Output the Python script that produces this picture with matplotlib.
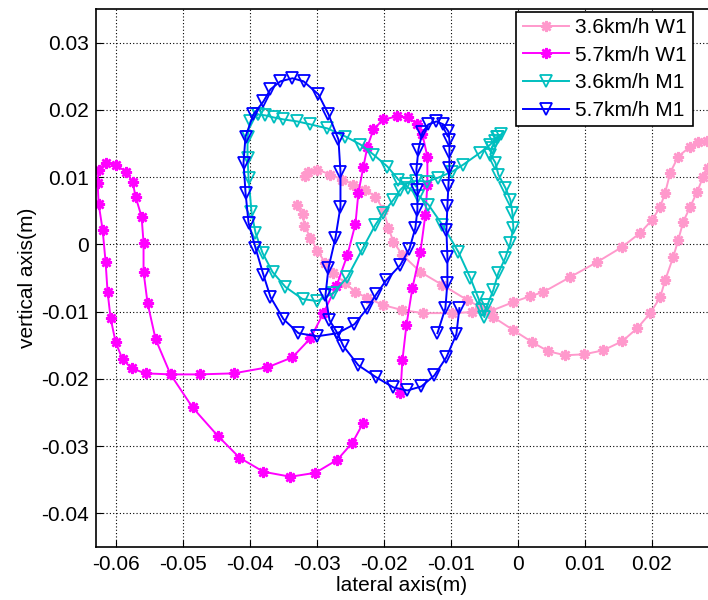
import numpy as np
import matplotlib.pyplot as plt

plt.rcParams['font.family'] = ['Liberation Sans', 'DejaVu Sans']

# 3.6km/h W1 (light pink)
x_w1_36 = [-0.03291, -0.03216, -0.03187, -0.03097, -0.02993, -0.02873, -0.02754, -0.02575, -0.02425,
           -0.02246, -0.02007, -0.01724, -0.0141, -0.00978, -0.00679, -0.0041, -0.00067, 0.00187,
           0.00381, 0.00784, 0.01187, 0.0156, 0.01828, 0.02007, 0.02127, 0.02201, 0.02276, 0.02396,
           0.02575, 0.02694, 0.02828, 0.02963, 0.03007, 0.02843, 0.02769, 0.02679, 0.02575, 0.0247,
           0.02396, 0.02321, 0.02201, 0.02127, 0.01978, 0.01784, 0.0156, 0.01276, 0.00993, 0.00709,
           0.00455, 0.00216, -0.00067, -0.00366, -0.0056, -0.00754, -0.01127, -0.01455, -0.01724,
           -0.01858, -0.01933, -0.02007, -0.02127, -0.02276, -0.02455, -0.02619, -0.02799, -0.02993,
           -0.03127, -0.03172]
y_w1_36 = [0.0059, 0.00455, 0.00276, 0.00097, -0.00097, -0.00276, -0.00425, -0.00575, -0.00709,
           -0.00799, -0.00903, -0.00978, -0.01022, -0.01022, -0.01007, -0.00993, -0.00858, -0.00769,
           -0.00709, -0.00485, -0.00261, -0.00037, 0.00172, 0.00366, 0.0056, 0.00769, 0.01067, 0.01306,
           0.01455, 0.01515, 0.0153, 0.01485, 0.01336, 0.01142, 0.01007, 0.00784, 0.0056, 0.00336,
           0.00067, -0.00187, -0.0053, -0.00784, -0.01022, -0.01246, -0.0144, -0.01575, -0.01634, -0.01649,
           -0.0159, -0.01455, -0.01276, -0.01082, -0.00933, -0.00828, -0.00604, -0.0041, -0.00157,
           0.00037, 0.00246, 0.00515, 0.00709, 0.00813, 0.00888, 0.00963, 0.01037, 0.01112,
           0.01082, 0.01022]

# 5.7km/h W1 (magenta)
x_w1_57 = [-0.02306, -0.0247, -0.02694, -0.03022, -0.03396, -0.03799, -0.04157, -0.04485, -0.04858,
           -0.05187, -0.0541, -0.0553, -0.0559, -0.0559, -0.05619, -0.05709, -0.05754, -0.05858,
           -0.06007, -0.06157, -0.06261, -0.06276, -0.06261, -0.06201, -0.06157, -0.06127, -0.06082,
           -0.06007, -0.05903, -0.05769, -0.0556, -0.05187, -0.04754, -0.04246, -0.03739, -0.03366,
           -0.03097, -0.02903, -0.02709, -0.02545, -0.02425, -0.02381, -0.02306, -0.02246, -0.02157,
           -0.02007, -0.01799, -0.01634, -0.015, -0.01425, -0.01351, -0.01351, -0.01381, -0.01455,
           -0.01575, -0.01664, -0.01724, -0.01754]
y_w1_57 = [-0.02649, -0.02948, -0.03201, -0.03396, -0.03455, -0.03381, -0.03172, -0.02843, -0.02425,
           -0.01933, -0.0141, -0.00873, -0.0041, 0.00022, 0.0041, 0.00709, 0.00933, 0.01082,
           0.01187, 0.01216, 0.01112, 0.00918, 0.00604, 0.00216, -0.00261, -0.00709, -0.01097,
           -0.01455, -0.01709, -0.01843, -0.01918, -0.01933, -0.01933, -0.01918, -0.01828, -0.01679,
           -0.01396, -0.01022, -0.00619, -0.00157, 0.00306, 0.00769, 0.01157, 0.01455, 0.01709,
           0.01858, 0.01903, 0.01888, 0.01784, 0.01634, 0.01306, 0.00888, 0.0044, -0.00112,
           -0.00649, -0.01201, -0.01724, -0.02216]

# 3.6km/h M1 (cyan)
x_m1_36 = [-0.03888, -0.03769, -0.03649, -0.035, -0.03291, -0.03097, -0.02843, -0.02575, -0.02351,
           -0.02157, -0.01948, -0.01784, -0.01634, -0.01485, -0.01336, -0.01127, -0.00888, -0.00709,
           -0.0059, -0.0053, -0.005, -0.00455, -0.00366, -0.00291, -0.00187, -0.00112, -0.00067,
           -0.00082, -0.00112, -0.00187, -0.00291, -0.00336, -0.0041, -0.00381, -0.00336, -0.00291,
           -0.00246, -0.00306, -0.0041, -0.0056, -0.00813, -0.00978, -0.01187, -0.01351, -0.01515,
           -0.01664, -0.01754, -0.01858, -0.02007, -0.02127, -0.02321, -0.02545, -0.02754, -0.02993,
           -0.03216, -0.0347, -0.03664, -0.03813, -0.03918, -0.03978, -0.04022, -0.04037, -0.04037,
           -0.03993, -0.03888]
y_m1_36 = [0.01933, 0.01918, 0.01888, 0.01858, 0.01828, 0.01784, 0.01724, 0.01604, 0.01485,
           0.01336, 0.01157, 0.00963, 0.00843, 0.00724, 0.0059, 0.00291, -0.00112, -0.005,
           -0.00799, -0.00978, -0.01082, -0.00903, -0.00679, -0.00425, -0.00201, 0.00022, 0.00246,
           0.0047, 0.00664, 0.00843, 0.01037, 0.01216, 0.01336, 0.0144, 0.0153, 0.0159,
           0.01634, 0.01604, 0.01485, 0.01366, 0.01187, 0.01082, 0.00993, 0.00933, 0.00948,
           0.00903, 0.00813, 0.00664, 0.0047, 0.00291, -0.00067, -0.00485, -0.00724, -0.00843,
           -0.00813, -0.00634, -0.0041, -0.00127, 0.00172, 0.00485, 0.00993, 0.01291, 0.01604,
           0.01828, 0.01933]

# 5.7km/h M1 (blue)
x_m1_57 = [-0.00873, -0.00918, -0.01067, -0.01246, -0.0144, -0.01649, -0.01858, -0.02112, -0.02381,
           -0.02604, -0.02694, -0.02813, -0.02873, -0.02828, -0.02724, -0.02649, -0.02649, -0.02679,
           -0.02828, -0.02978, -0.03201, -0.03366, -0.03545, -0.03694, -0.03799, -0.03948, -0.04067,
           -0.04097, -0.04067, -0.04022, -0.03918, -0.03799, -0.03694, -0.035, -0.03276, -0.02993,
           -0.02694, -0.0244, -0.02246, -0.02112, -0.01963, -0.01754, -0.01619, -0.0153, -0.015,
           -0.015, -0.01515, -0.01485, -0.01425, -0.01336, -0.01216, -0.01112, -0.01037, -0.01022,
           -0.01022, -0.01022, -0.01037, -0.01052, -0.01067, -0.01052, -0.01052, -0.01082, -0.01201]
y_m1_57 = [-0.00948, -0.01336, -0.01679, -0.01948, -0.02112, -0.02172, -0.02127, -0.01978, -0.01799,
           -0.01515, -0.01321, -0.01127, -0.00754, -0.00351, 0.00097, 0.0056, 0.01082, 0.0156,
           0.01933, 0.02231, 0.02425, 0.0247, 0.02425, 0.02306, 0.02127, 0.01933, 0.01604,
           0.01216, 0.00769, 0.00321, -0.00052, -0.00455, -0.00784, -0.01112, -0.01321, -0.01366,
           -0.01321, -0.01187, -0.00948, -0.00739, -0.0053, -0.00306, -0.00067, 0.00246, 0.00515,
           0.00813, 0.01112, 0.0141, 0.01664, 0.01784, 0.01828, 0.01784, 0.01679, 0.01545,
           0.01381, 0.01142, 0.00873, 0.00575, 0.00216, -0.00187, -0.00575, -0.00948, -0.01321]

star = (8, 2, 0)

fig = plt.figure(figsize=(7.08, 6.0), dpi=100)
ax = fig.add_axes([0.1356, 0.0883, 0.8644, 0.8967])

ax.plot(x_w1_36, y_w1_36, color='#FF99CC', lw=1.4, marker=star, ms=8, mew=1.8, label='3.6km/h W1')
ax.plot(x_w1_57, y_w1_57, color='#FF00FF', lw=1.4, marker=star, ms=8, mew=1.8, label='5.7km/h W1')
ax.plot(x_m1_36, y_m1_36, color='#00BFBF', lw=1.4, marker='v', ms=8.5, mfc='none', mew=1.3,
        label='3.6km/h M1')
ax.plot(x_m1_57, y_m1_57, color='#0000FF', lw=1.4, marker='v', ms=8.5, mfc='none', mew=1.3,
        label='5.7km/h M1')

ax.set_xlim(-0.063, 0.0284)
ax.set_ylim(-0.045, 0.035)
ax.set_xticks(np.arange(-0.06, 0.021, 0.01))
ax.set_yticks(np.arange(-0.04, 0.031, 0.01))
ax.xaxis.set_major_formatter(plt.FuncFormatter(lambda v, p: '%g' % round(v, 3)))
ax.yaxis.set_major_formatter(plt.FuncFormatter(lambda v, p: '%g' % round(v, 3)))
ax.tick_params(direction='in', labelsize=15, length=5, width=0.8)
ax.tick_params(axis='x', pad=6)
ax.tick_params(axis='y', pad=5)
ax.grid(True, color='black', linestyle=(0, (1, 2)), linewidth=0.8)
ax.spines['right'].set_visible(False)
for s in ['left', 'bottom', 'top']:
    ax.spines[s].set_linewidth(1.2)

ax.set_xlabel('lateral axis(m)', fontsize=15, labelpad=1)
ax.set_ylabel('vertical axis(m)', fontsize=15, labelpad=3)

leg = ax.legend(loc='upper right', bbox_to_anchor=(0.975, 0.995), borderaxespad=0, fontsize=15,
                frameon=True, fancybox=False, edgecolor='black', handlelength=2.2,
                handletextpad=0.3, labelspacing=0.42, borderpad=0.3)
leg.get_frame().set_linewidth(1.2)
leg.get_frame().set_alpha(1)

fig.savefig('out.png', dpi=100)
